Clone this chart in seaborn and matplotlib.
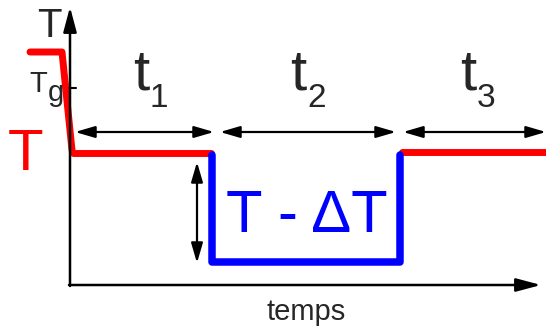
import seaborn as sns
import matplotlib.pyplot as plt

# Profil de température (temps, température) en unités arbitraires
temps_trempe = [-40, -8, 2]
temp_trempe = [233, 233, 135]
temps_palier1 = [3, 141]
temp_palier1 = [132, 132]
temps_palier2 = [142, 142, 330, 330]
temp_palier2 = [130, 23, 23, 130]
temps_palier3 = [332, 476]
temp_palier3 = [133, 133]

# Intervalles t1, t2, t3 et saut de température
intervalles = [(5, 144), (150, 326), (333, 476)]
indices_t = ['1', '2', '3']
niveau_intervalles = 153
temps_saut = 127
saut_dT = (123, 22)
temp_Tg = 197

sns.set_style("white")
plt.rcParams['font.family'] = ['Liberation Sans', 'DejaVu Sans']

fig = plt.figure(figsize=(5.46, 3.28), dpi=100)
ax = fig.add_axes([0, 0, 1, 1])
ax.set_xlim(-70, 476)
ax.set_ylim(-43, 285)
ax.axis('off')

# axes du diagramme
fleche_axe = dict(arrowstyle='-|>,head_length=1.5,head_width=0.4', mutation_scale=10,
                  color='black', lw=1.8, shrinkA=0, shrinkB=0)
ax.annotate('', xy=(0, 278), xytext=(0, -1), arrowprops=fleche_axe)
ax.annotate('', xy=(471, 0), xytext=(-1, 0), arrowprops=fleche_axe)
ax.plot([0, 6], [temp_Tg, temp_Tg], color='black', lw=1.5)

# courbes de température
rouge, bleu = '#ff0000', '#0000ff'
sns.lineplot(x=temps_trempe, y=temp_trempe, sort=False, estimator=None, color=rouge, lw=5, ax=ax)
sns.lineplot(x=temps_palier1, y=temp_palier1, sort=False, estimator=None, color=rouge, lw=5, ax=ax)
sns.lineplot(x=temps_palier3, y=temp_palier3, sort=False, estimator=None, color=rouge, lw=5, ax=ax)
sns.lineplot(x=temps_palier2, y=temp_palier2, sort=False, estimator=None, color=bleu, lw=5.4, ax=ax)

# flèches doubles
fleche_double = dict(arrowstyle='<|-|>,head_length=1.2,head_width=0.35', mutation_scale=10,
                     color='black', lw=1.6, shrinkA=0, shrinkB=0)
for debut, fin in intervalles:
    ax.annotate('', xy=(fin, niveau_intervalles), xytext=(debut, niveau_intervalles),
                arrowprops=fleche_double)
ax.annotate('', xy=(temps_saut, saut_dT[1]), xytext=(temps_saut, saut_dT[0]),
            arrowprops=fleche_double)

# textes
pos_t = [63, 220, 390]
for x, i in zip(pos_t, indices_t):
    ax.text(x, 195, 't', fontsize=42, ha='left', va='baseline')
    ax.text(x + 17, 178, i, fontsize=24, ha='left', va='baseline')

ax.text(-33, 248, 'T', fontsize=29, ha='left', va='baseline')
ax.text(-41, 193, 'T', fontsize=21, ha='left', va='baseline')
ax.text(-22.5, 184, 'g', fontsize=21, ha='left', va='baseline')
ax.text(-62, 115, 'T', fontsize=42, color=rouge, ha='left', va='baseline')
ax.text(156, 53, 'T - ΔT', fontsize=43, color=bleu, ha='left', va='baseline')
ax.text(236, -35, 'temps', fontsize=21, ha='center', va='baseline')

fig.savefig('out.png', dpi=100)
